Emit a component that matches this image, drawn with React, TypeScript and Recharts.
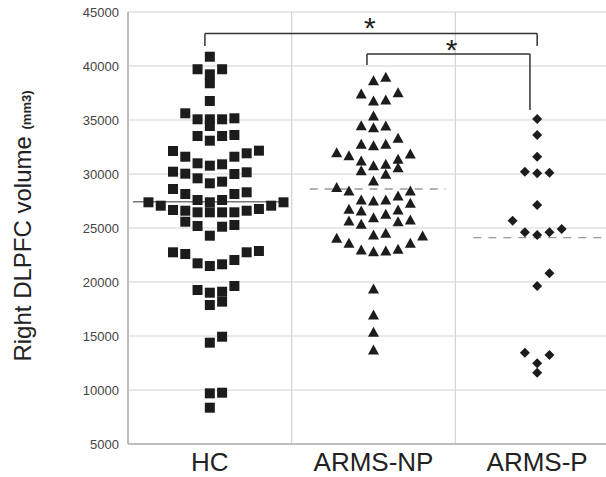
import React from 'react';
import {
  ScatterChart,
  Scatter,
  XAxis,
  YAxis,
  CartesianGrid,
  ReferenceLine,
  ReferenceDot,
} from 'recharts';

// group names on the x axis
const categories = ['HC', 'ARMS-NP', 'ARMS-P'];

// values per group, split into the horizontal rows of the dot plot
const hcRows = [
  [40861],
  [39700, 39230, 39700],
  [38400],
  [36759],
  [35157, 35065, 35065, 35065, 35620],
  [34444],
  [33611, 33518, 33083, 33518],
  [32130, 31600, 30990, 30770, 30898, 31600, 31917, 32160],
  [30213, 30028, 29600, 29137, 29290, 30000, 30157],
  [28611, 28148, 27592, 27380, 27592, 28148, 28305],
  [27380, 27065, 26760, 26600, 26453, 26453, 26453, 26453, 26600, 26667, 27065, 27380],
  [25280, 25120, 24287, 25185, 25583],
  [22750, 22593, 21730, 21480, 21640, 22037, 22750, 22870],
  [19259, 19010, 19630, 19100],
  [17870, 18180],
  [14935, 14380],
  [9690, 9750],
  [8360],
];

const armsNpRows = [
  [38950, 38640],
  [37407, 36760, 36850, 37530],
  [35370],
  [34444, 34290, 34470],
  [32750, 32620, 32750, 33300],
  [31970, 31700, 31200, 30900, 30770, 31370, 31850],
  [30590, 29970, 29350, 30300],
  [28426, 27963, 27600, 27500, 27600, 28426, 28740],
  [26667, 26574, 25950, 26270, 26740, 27290],
  [25740, 25340, 25580, 25650, 24350, 24510],
  [24260, 23580, 22960, 22870, 22800, 23030, 23580, 24050],
  [19350],
  [16940],
  [15340],
  [13700],
];

const armsPRows = [
  [35093],
  [33611],
  [31600],
  [30213, 30065, 30120],
  [27130],
  [25680, 24600, 24350, 24600, 24907],
  [20800, 19630],
  [12470, 13240, 13450],
  [11600],
];

// group means / medians (line across each column)
const groupLines = [27430, 28611, 24100];

const yTicks = [5000, 10000, 15000, 20000, 25000, 30000, 35000, 40000, 45000];

const FONT = '"Liberation Sans", Arial, Helvetica, sans-serif';
const INK = '#1c1c1c';
const SLOT = 0.075;

// prism-like layout: lowest value in the middle, then right, left, right...
function layout(rows: number[][], group: number) {
  const pts: { x: number; y: number }[] = [];
  rows.forEach((row) => {
    const sorted = [...row].sort((a, b) => a - b);
    sorted.forEach((v, i) => {
      const slot = i === 0 ? 0 : i % 2 === 1 ? (i + 1) / 2 : -i / 2;
      pts.push({ x: group + 0.5 + slot * SLOT, y: v });
    });
  });
  return pts;
}

const hcData = layout(hcRows, 0);
const armsNpData = layout(armsNpRows, 1);
const armsPData = layout(armsPRows, 2);

const Square = (p: any) => (
  <rect x={p.cx - 5} y={p.cy - 5} width={10} height={10} fill={INK} />
);
const Triangle = (p: any) => (
  <path d={`M${p.cx},${p.cy - 5.5} L${p.cx + 5.5},${p.cy + 4.5} L${p.cx - 5.5},${p.cy + 4.5} Z`} fill={INK} />
);
const Diamond = (p: any) => (
  <path d={`M${p.cx},${p.cy - 5} L${p.cx + 5},${p.cy} L${p.cx},${p.cy + 5} L${p.cx - 5},${p.cy} Z`} fill={INK} />
);

const Star = (p: any) => (
  <text
    x={p.cx}
    y={p.cy + 14}
    textAnchor="middle"
    fontSize={30}
    fontFamily={FONT}
    fill="#222"
  >
    *
  </text>
);

const YLabel = () => (
  <text
    x={31}
    y={226}
    transform="rotate(-90, 31, 226)"
    textAnchor="middle"
    fontFamily={FONT}
    fill="#222"
  >
    <tspan fontSize={24}>Right DLPFC volume </tspan>
    <tspan fontSize={13} fontWeight="bold">(mm3)</tspan>
  </text>
);

const bracketStroke = '#333';

export default function App() {
  return (
    <div
      style={{
        position: 'absolute',
        left: 0,
        top: 0,
        width: 606,
        height: 477,
        overflow: 'hidden',
        background: '#fff',
      }}
    >
      <ScatterChart width={620} height={477} margin={{ top: 12, right: 1, bottom: 0, left: 0 }}>
        <CartesianGrid
          stroke="#d2d2d2"
          strokeWidth={1.2}
          verticalCoordinatesGenerator={({ offset }: any) =>
            [0, 1, 2, 3].map((v) => offset.left + (offset.width * v) / 3)
          }
        />
        <XAxis
          type="number"
          dataKey="x"
          domain={[0, 3]}
          ticks={[0.5, 1.5, 2.5]}
          tickFormatter={(v: number) => categories[Math.floor(v)]}
          height={33}
          tickSize={0}
          tickMargin={9}
          axisLine={{ stroke: '#b0b0b0', strokeWidth: 1.5 }}
          tick={{ fontSize: 26, fill: '#222', fontFamily: FONT }}
          allowDataOverflow
        />
        <YAxis
          type="number"
          dataKey="y"
          domain={[5000, 45000]}
          ticks={yTicks}
          width={128}
          tickSize={0}
          tickMargin={9}
          axisLine={{ stroke: '#b0b0b0', strokeWidth: 1.5 }}
          tick={{ fontSize: 13, fill: '#444', fontFamily: FONT }}
          label={{ content: <YLabel /> }}
          allowDataOverflow
        />

        {groupLines.map((m, i) => (
          <ReferenceLine
            key={`m-${i}`}
            segment={[
              { x: i + (i === 0 ? 0.03 : 0.11), y: m },
              { x: i + 0.94, y: m },
            ]}
            stroke={i === 0 ? '#777' : '#999'}
            strokeWidth={1.3}
            strokeDasharray={i === 0 ? undefined : '8 7'}
            ifOverflow="visible"
          />
        ))}

        {/* significance brackets */}
        <ReferenceLine segment={[{ x: 0.47, y: 41850 }, { x: 0.47, y: 43000 }]} stroke={bracketStroke} strokeWidth={1.5} ifOverflow="visible" />
        <ReferenceLine segment={[{ x: 0.47, y: 43000 }, { x: 2.5, y: 43000 }]} stroke={bracketStroke} strokeWidth={1.5} ifOverflow="visible" />
        <ReferenceLine segment={[{ x: 2.5, y: 43000 }, { x: 2.5, y: 41850 }]} stroke={bracketStroke} strokeWidth={1.5} ifOverflow="visible" />
        <ReferenceLine segment={[{ x: 1.46, y: 40090 }, { x: 1.46, y: 41100 }]} stroke={bracketStroke} strokeWidth={1.5} ifOverflow="visible" />
        <ReferenceLine segment={[{ x: 1.46, y: 41100 }, { x: 2.456, y: 41100 }]} stroke={bracketStroke} strokeWidth={1.5} ifOverflow="visible" />
        <ReferenceLine segment={[{ x: 2.456, y: 41100 }, { x: 2.456, y: 35926 }]} stroke={bracketStroke} strokeWidth={1.5} ifOverflow="visible" />
        <ReferenceDot x={1.478} y={43890} r={0} shape={<Star />} ifOverflow="visible" />
        <ReferenceDot x={1.977} y={41852} r={0} shape={<Star />} ifOverflow="visible" />

        <Scatter data={hcData} shape={<Square />} isAnimationActive={false} />
        <Scatter data={armsNpData} shape={<Triangle />} isAnimationActive={false} />
        <Scatter data={armsPData} shape={<Diamond />} isAnimationActive={false} />
      </ScatterChart>
    </div>
  );
}
